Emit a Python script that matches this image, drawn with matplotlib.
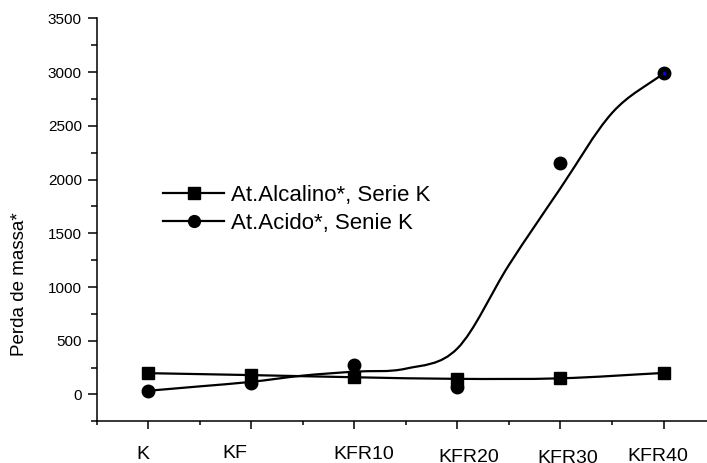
import numpy as np
import matplotlib.pyplot as plt
from matplotlib.path import Path
from matplotlib.patches import PathPatch
from matplotlib.lines import Line2D
from matplotlib.transforms import ScaledTranslation

plt.rcParams['font.family'] = ['Liberation Sans', 'DejaVu Sans']

DPI = 100

# data
samples = ['K', 'KF', 'KFR10', 'KFR20', 'KFR30', 'KFR40']
alcalino = [196, 180, 164, 140, 149, 198]
acido = [31, 102, 270, 71, 2150, 2994]

# fitted curves as drawn in the reference (position in sample index, value)
alc_fit_x = [0, 1, 2, 3, 4, 5]
alc_fit_y = [198, 180, 160, 145, 150, 200]
acd_fit_x = [0, 0.5, 1, 1.5, 2, 2.5, 3, 3.5, 4, 4.5, 5]
acd_fit_y = [34, 75, 117, 175, 212, 240, 428, 1205, 1920, 2620, 2990]


def smooth_path(xs, ys):
    # cubic hermite through the knots (finite-difference slopes), as bezier segments
    xs = np.asarray(xs, float)
    ys = np.asarray(ys, float)
    m = np.gradient(ys, xs)
    verts = [(xs[0], ys[0])]
    codes = [Path.MOVETO]
    for i in range(len(xs) - 1):
        h = xs[i + 1] - xs[i]
        verts += [(xs[i] + h / 3, ys[i] + m[i] * h / 3),
                  (xs[i + 1] - h / 3, ys[i + 1] - m[i + 1] * h / 3),
                  (xs[i + 1], ys[i + 1])]
        codes += [Path.CURVE4] * 3
    return Path(verts, codes)


fig = plt.figure(figsize=(707 / DPI, 463 / DPI), dpi=DPI)
ax = fig.add_axes([0.1365, 0.0901, 0.875, 0.870])

x = np.arange(len(samples))

for fx, fy in [(alc_fit_x, alc_fit_y), (acd_fit_x, acd_fit_y)]:
    ax.add_patch(PathPatch(smooth_path(fx, fy), fc='none', ec='black', lw=1.6))

ax.plot(x, alcalino, ls='none', marker='s', ms=9, color='black')
ax.plot(x, acido, ls='none', marker='o', ms=9, color='black')
ax.plot(x[-1], acido[-1], ls='none', marker='s', ms=1.8, color='blue')

ax.set_xlim(-0.5, 5.5)
ax.set_ylim(-250, 3500)

for s in ['top', 'right']:
    ax.spines[s].set_visible(False)
for s in ['left', 'bottom']:
    ax.spines[s].set_linewidth(1.1)

ax.set_yticks(np.arange(0, 3501, 500))
ax.set_yticks(np.arange(-250, 3501, 250), minor=True)
ax.set_xticks(x)
ax.set_xticks(np.arange(-0.5, 5.6, 0.5), minor=True)
ax.set_xticklabels(samples)

ax.tick_params(axis='y', which='major', length=6.5, width=1.1, labelsize=11, pad=4)
ax.tick_params(axis='y', which='minor', length=4, width=1.1)
ax.tick_params(axis='x', which='major', length=5.8, width=1.1, labelsize=14, pad=12)
ax.tick_params(axis='x', which='minor', length=2.7, width=1.1)

# the sample names sit a little off their ticks in the original
label_shift = [(-5, 0), (-16, -1), (9, 0), (11.6, 3), (7, 4), (-6, 2)]
for lab, (dx, dy) in zip(ax.get_xticklabels(), label_shift):
    lab.set_transform(lab.get_transform() + ScaledTranslation(dx / DPI, -dy / DPI, fig.dpi_scale_trans))

ax.set_ylabel('Perda de massa*', fontsize=13.5)
ax.yaxis.set_label_coords(-0.110, 0.341)

handles = [
    Line2D([], [], color='black', lw=1.6, marker='s', ms=8),
    Line2D([], [], color='black', lw=1.6, marker='o', ms=8.5),
]
ax.legend(handles, ['At.Alcalino*, Serie K', 'At.Acido*, Senie K'],
          loc='upper left', bbox_to_anchor=(163 / 707, 1 - 185 / 463),
          bbox_transform=fig.transFigure, frameon=False, fontsize=16,
          handlelength=2.75, handletextpad=0.3, labelspacing=0.3,
          borderpad=0, borderaxespad=0, numpoints=1)

fig.savefig('out.png', dpi=DPI)
